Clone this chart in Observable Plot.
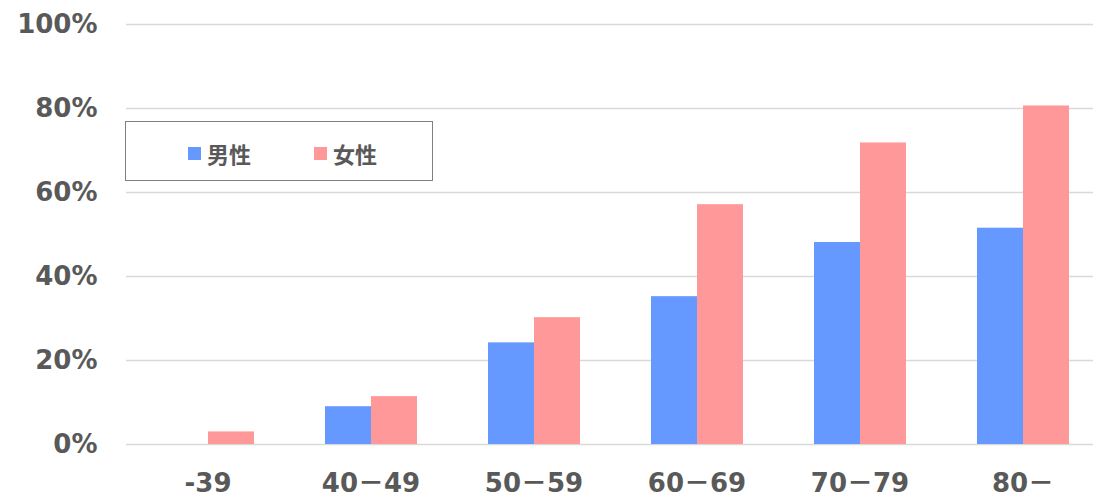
<!DOCTYPE html>
<html>
<head>
<meta charset="utf-8">
<script src="https://cdn.jsdelivr.net/npm/d3@7"></script>
<script src="https://cdn.jsdelivr.net/npm/@observablehq/plot@0.6"></script>
<style>
  html, body { margin: 0; padding: 0; background: #fff; }
  #wrap { position: relative; width: 1093px; height: 499px; overflow: hidden; }
  #legend { position: absolute; box-sizing: border-box; left: 125px; top: 121px; width: 308px; height: 60px;
    border: 1.5px solid #808080; background: #fff; }
  .item { position: absolute; top: 15px; display: flex; align-items: center;
    font-family: "Noto Sans CJK JP", sans-serif; font-weight: bold; font-size: 22px; color: #595959; }
  .sw { width: 13px; height: 13px; margin-right: 6px; }
</style>
</head>
<body>
<div id="wrap"></div>
<script>
const categories = ["-39", "40－49", "50－59", "60－69", "70－79", "80－"];
const series = ["男性", "女性"];
const maleValues = [null, 9.0, 24.2, 35.2, 48.1, 51.5];
const femaleValues = [3.0, 11.4, 30.2, 57.1, 71.8, 80.6];
const yTicks = [0, 20, 40, 60, 80, 100];
const colors = ["#6699FF", "#FF9999"];

const rows = [];
categories.forEach((c, i) => {
  rows.push({cat: c, sex: series[0], value: maleValues[i]});
  rows.push({cat: c, sex: series[1], value: femaleValues[i]});
});

const font = '"DejaVu Sans", "Noto Sans CJK JP", sans-serif';

const chart = Plot.plot({
  width: 1093,
  height: 499,
  marginLeft: 126,
  marginRight: -11,
  marginTop: 24,
  marginBottom: 55,
  style: {fontFamily: font, background: "#fff", overflow: "hidden"},
  fx: {domain: categories, padding: 0, axis: null, label: null},
  x: {domain: series, paddingInner: 0, paddingOuter: 0.753, axis: null},
  y: {domain: [0, 100], axis: null},
  color: {domain: series, range: colors},
  marks: [
    Plot.gridY(yTicks, {stroke: "#d9d9d9", strokeOpacity: 1, strokeWidth: 1.5}),
    Plot.barY(rows.filter(d => d.value != null), {fx: "cat", x: "sex", y: "value", fill: "sex"}),
    Plot.axisY(yTicks, {tickSize: 0, tickPadding: 29, tickFormat: d => d + "%", fontSize: 26,
      fontWeight: "bold", fill: "#595959", label: null}),
    Plot.text(categories, {fx: d => d, text: d => d, frameAnchor: "bottom",
      dy: 47.5, fontSize: 26, fontWeight: "bold", fill: "#595959"})
  ]
});

const wrap = document.getElementById("wrap");
wrap.appendChild(chart);

const legend = document.createElement("div");
legend.id = "legend";
const itemLeft = [62, 188];
series.forEach((s, i) => {
  const it = document.createElement("div");
  it.className = "item";
  it.style.left = itemLeft[i] + "px";
  const sw = document.createElement("span");
  sw.className = "sw";
  sw.style.background = colors[i];
  const tx = document.createElement("span");
  tx.textContent = s;
  it.appendChild(sw);
  it.appendChild(tx);
  legend.appendChild(it);
});
wrap.appendChild(legend);
</script>
</body>
</html>
